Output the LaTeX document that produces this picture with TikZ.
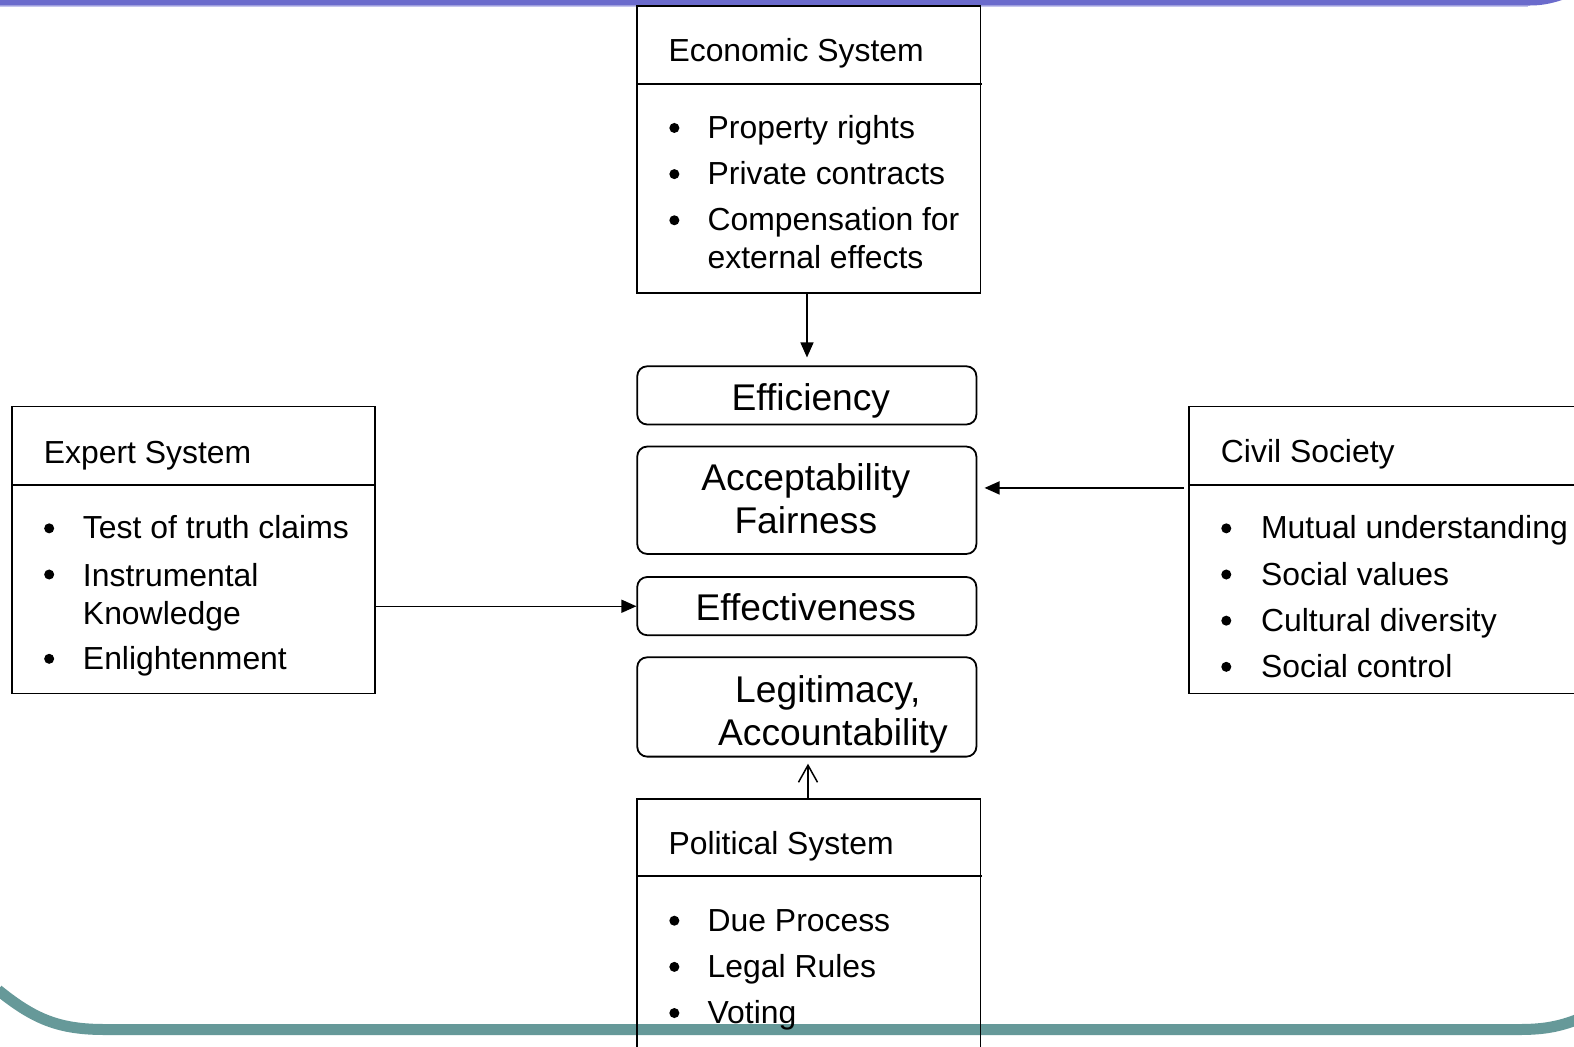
\documentclass[tikz,border=0pt]{standalone}
\usepackage{fontspec}
\setmainfont{Liberation Sans}
\usetikzlibrary{arrows.meta}
\definecolor{topbar}{HTML}{6B6BCC}
\definecolor{topline}{HTML}{C4C4EE}
\definecolor{tealbar}{HTML}{669999}
\tikzset{
  sysbox/.style={draw, line width=1.8bp, rectangle, inner sep=0pt},
  valbox/.style={draw, line width=1.8bp, rectangle, rounded corners=10bp, inner sep=0pt},
  ttl/.style={anchor=base west, inner sep=0pt, font=\fontsize{31.9}{38}\selectfont},
  itm/.style={anchor=base west, inner sep=0pt, font=\fontsize{31.9}{38}\selectfont},
  val/.style={anchor=base, inner sep=0pt, font=\fontsize{37.2}{44}\selectfont},
  bul/.style={circle, fill, inner sep=0pt, minimum size=10bp},
  divider/.style={line width=1.8bp},
  arr/.style={line width=1.5bp, -{Triangle[length=15bp,width=13bp]}},
  oarr/.style={line width=1.5bp, -{Straight Barb[length=17bp,width=19bp]}},
}
\begin{document}
\begin{tikzpicture}[x=1bp,y=-1bp]
\useasboundingbox (0,0) rectangle (1574,1046);
\clip (0,0) rectangle (1574,1046);
\fill[white] (0,0) rectangle (1574,1046);
% slide decoration
\fill[topbar] (0,0) -- (1562,0) .. controls (1550,4) and (1540,5.5) .. (1530,5.5) -- (0,5.5) -- cycle;
\draw[topline, line width=1.5bp] (0,6.3) -- (1528,6.3);
\draw[tealbar, line width=11bp] (-2,990) .. controls (35,1020) and (60,1029.5) .. (105,1029.5) -- (1520,1029.5) .. controls (1545,1029.5) and (1560,1026) .. (1576,1020);

\begin{scope}[scale=1.0035, transform shape]
% Economic System
\node[sysbox, minimum width=342bp, minimum height=286bp] (econ) at (806,149) {};
\draw[divider] (econ.west |- 0,84) -- (econ.east |- 0,84);
\node[ttl] (econT) at (666,61.5) {Economic System};
\node[bul] (eb1) at (672,127.5) {};
\node[itm] (ei1) at (705,138) {Property rights};
\node[bul] (eb2) at (672,173.5) {};
\node[itm] (ei2) at (705,184) {Private contracts};
\node[bul] (eb3) at (672,219.5) {};
\node[itm] (ei3) at (705,230) {Compensation for};
\node[itm] (ei4) at (705,268) {external effects};

% value boxes
\node[valbox, minimum width=338bp, minimum height=58bp] (eff) at (804,394) {};
\node[val] (effT) at (808,409) {Efficiency};
\node[valbox, minimum width=338bp, minimum height=107bp] (acc) at (804,498.5) {};
\node[val] (accT1) at (803,489) {Acceptability};
\node[val] (accT2) at (803,532) {Fairness};
\node[valbox, minimum width=338bp, minimum height=58bp] (effv) at (804,604) {};
\node[val] (effvT) at (803,618) {Effectiveness};
\node[valbox, minimum width=338bp, minimum height=99bp] (leg) at (804,704.5) {};
\node[val] (legT1) at (825,700) {Legitimacy,};
\node[val] (legT2) at (830,743) {Accountability};

% Political System
\node[sysbox, minimum width=342bp, minimum height=280bp] (pol) at (806,936) {};
\draw[divider] (pol.west |- 0,873) -- (pol.east |- 0,873);
\node[ttl] (polT) at (666,852) {Political System};
\node[bul] (pb1) at (672,917.5) {};
\node[itm] (pi1) at (705,928) {Due Process};
\node[bul] (pb2) at (672,963.5) {};
\node[itm] (pi2) at (705,974) {Legal Rules};
\node[bul] (pb3) at (672,1009.5) {};
\node[itm] (pi3) at (705,1020) {Voting};

% Expert System
\node[sysbox, minimum width=362bp, minimum height=286bp] (exp) at (193,548) {};
\draw[divider] (exp.west |- 0,483) -- (exp.east |- 0,483);
\node[ttl] (expT) at (43.5,462) {Expert System};
\node[bul] (xb1) at (49,526.5) {};
\node[itm] (xi1) at (82.5,537) {Test of truth claims};
\node[bul] (xb2) at (49,572.5) {};
\node[itm] (xi2) at (82.5,584) {Instrumental};
\node[itm] (xi3) at (82.5,622) {Knowledge};
\node[bul] (xb3) at (49,656.5) {};
\node[itm] (xi4) at (82.5,667) {Enlightenment};

% Civil Society
\node[sysbox, minimum width=415bp, minimum height=286bp] (civ) at (1392.5,548) {};
\draw[divider] (civ.west |- 0,483) -- (civ.east |- 0,483);
\node[ttl] (civT) at (1216.5,461) {Civil Society};
\node[bul] (cb1) at (1222,526.5) {};
\node[itm] (ci1) at (1256.5,537) {Mutual understanding};
\node[bul] (cb2) at (1222,572.5) {};
\node[itm] (ci2) at (1256.5,583) {Social values};
\node[bul] (cb3) at (1222,618.5) {};
\node[itm] (ci3) at (1256.5,629) {Cultural diversity};
\node[bul] (cb4) at (1222,664.5) {};
\node[itm] (ci4) at (1256.5,675) {Social control};

% connectors
\draw[arr, shorten >=8bp] ([xshift=-2bp]econ.south) -- ([xshift=-2bp]econ.south |- eff.north);
\coordinate (civout) at ([xshift=-5bp,yshift=62bp]civ.west);
\draw[arr, shorten >=7bp] (civout) -- (civout -| acc.east);
\draw[arr] ([xshift=-2bp]exp.east |- effv.west) -- (effv.west);
\draw[oarr, shorten >=6bp] ([xshift=-1bp]pol.north) -- ([xshift=-1bp]pol.north |- leg.south);
\end{scope}
\end{tikzpicture}
\end{document}
